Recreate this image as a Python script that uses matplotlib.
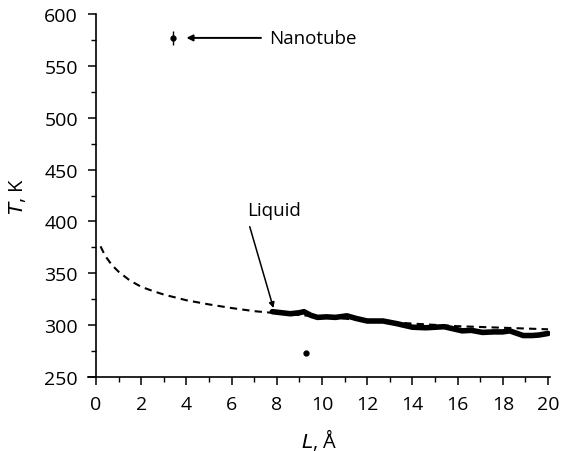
import numpy as np
import matplotlib
matplotlib.use('Agg')
import matplotlib.pyplot as plt
from matplotlib.ticker import MultipleLocator

plt.rcParams['font.family'] = ['Open Sans', 'DejaVu Sans']

# dashed fit curve
fit_L = [0.2, 0.4, 0.7, 1.0, 1.5, 2.0, 2.5, 3.0, 4.0, 5.0, 6.0, 7.0, 8.0, 10.0, 12.0, 14.0, 16.0, 18.0, 20.0]
fit_T = [376, 367, 358, 351.5, 343, 337, 333, 329.5, 324, 320, 316.5, 313.5, 311.5, 308, 304.5, 301.5, 299, 297.5, 296]

# simulated liquid curve
liq_L = [7.8, 8.2, 8.6, 9.0, 9.2, 9.5, 9.8, 10.2, 10.6, 11.1, 11.5, 12.0, 12.7, 13.3, 14.0, 14.6,
         15.4, 15.8, 16.2, 16.6, 17.1, 17.6, 18.0, 18.3, 18.9, 19.3, 19.6, 20.0]
liq_T = [313, 312, 311, 312, 313, 309.5, 307.5, 308, 307.5, 309, 306.5, 304, 304, 301.5, 298, 297.5,
         298.5, 296.5, 294.5, 295, 293, 293.5, 293.5, 294.5, 290, 290, 290.5, 292]

# nanotube point and stray point
nano_L, nano_T, nano_err = 3.42, 577, 7
stray_L, stray_T = 9.3, 273

fig = plt.figure(figsize=(5.62, 4.52), dpi=100)
ax = fig.add_axes([0.1568, 0.1637, 0.8224, 0.803])

ax.plot(fit_L, fit_T, '--', color='black', lw=1.5, dashes=(3.5, 2.5))
ax.plot(liq_L, liq_T, '-', color='black', lw=4.0, solid_joinstyle='round', solid_capstyle='round')
ax.errorbar([nano_L], [nano_T], yerr=[nano_err], fmt='o', color='black', ms=3.5, elinewidth=1, capsize=0)
ax.plot([stray_L], [stray_T], 'o', color='black', ms=3.5)

ax.annotate('', xy=(4.0, 577), xytext=(7.3, 577),
            arrowprops=dict(arrowstyle='-|>', color='black', lw=1.4, mutation_scale=9,
                            shrinkA=0, shrinkB=0))
ax.text(7.65, 577, 'Nanotube', fontsize=13.5, va='center', ha='left')

ax.annotate('', xy=(7.85, 316.5), xytext=(6.8, 395),
            arrowprops=dict(arrowstyle='-|>', color='black', lw=1.1, mutation_scale=8,
                            shrinkA=0, shrinkB=0))
ax.text(6.7, 411, 'Liquid', fontsize=13.5, va='center', ha='left')

ax.set_xlim(-0.35, 20.1)
ax.set_ylim(250, 600)
ax.spines['top'].set_visible(False)
ax.spines['right'].set_visible(False)
ax.spines['left'].set_position(('data', 0))
ax.spines['left'].set_linewidth(1.2)
ax.spines['bottom'].set_linewidth(1.2)

ax.xaxis.set_major_locator(MultipleLocator(2))
ax.xaxis.set_minor_locator(MultipleLocator(1))
ax.yaxis.set_major_locator(MultipleLocator(50))
ax.yaxis.set_minor_locator(MultipleLocator(25))
ax.tick_params(which='major', direction='out', length=6, width=1.1, labelsize=14)
ax.tick_params(which='minor', direction='out', length=3.5, width=1.0)
ax.tick_params(axis='x', pad=7)
ax.tick_params(axis='y', pad=7)

ax.set_xlabel('$L$, Å', fontsize=14.5, labelpad=9)
ax.set_ylabel('$T$, K', fontsize=14.5, labelpad=12)

plt.savefig('out.png', dpi=100)
